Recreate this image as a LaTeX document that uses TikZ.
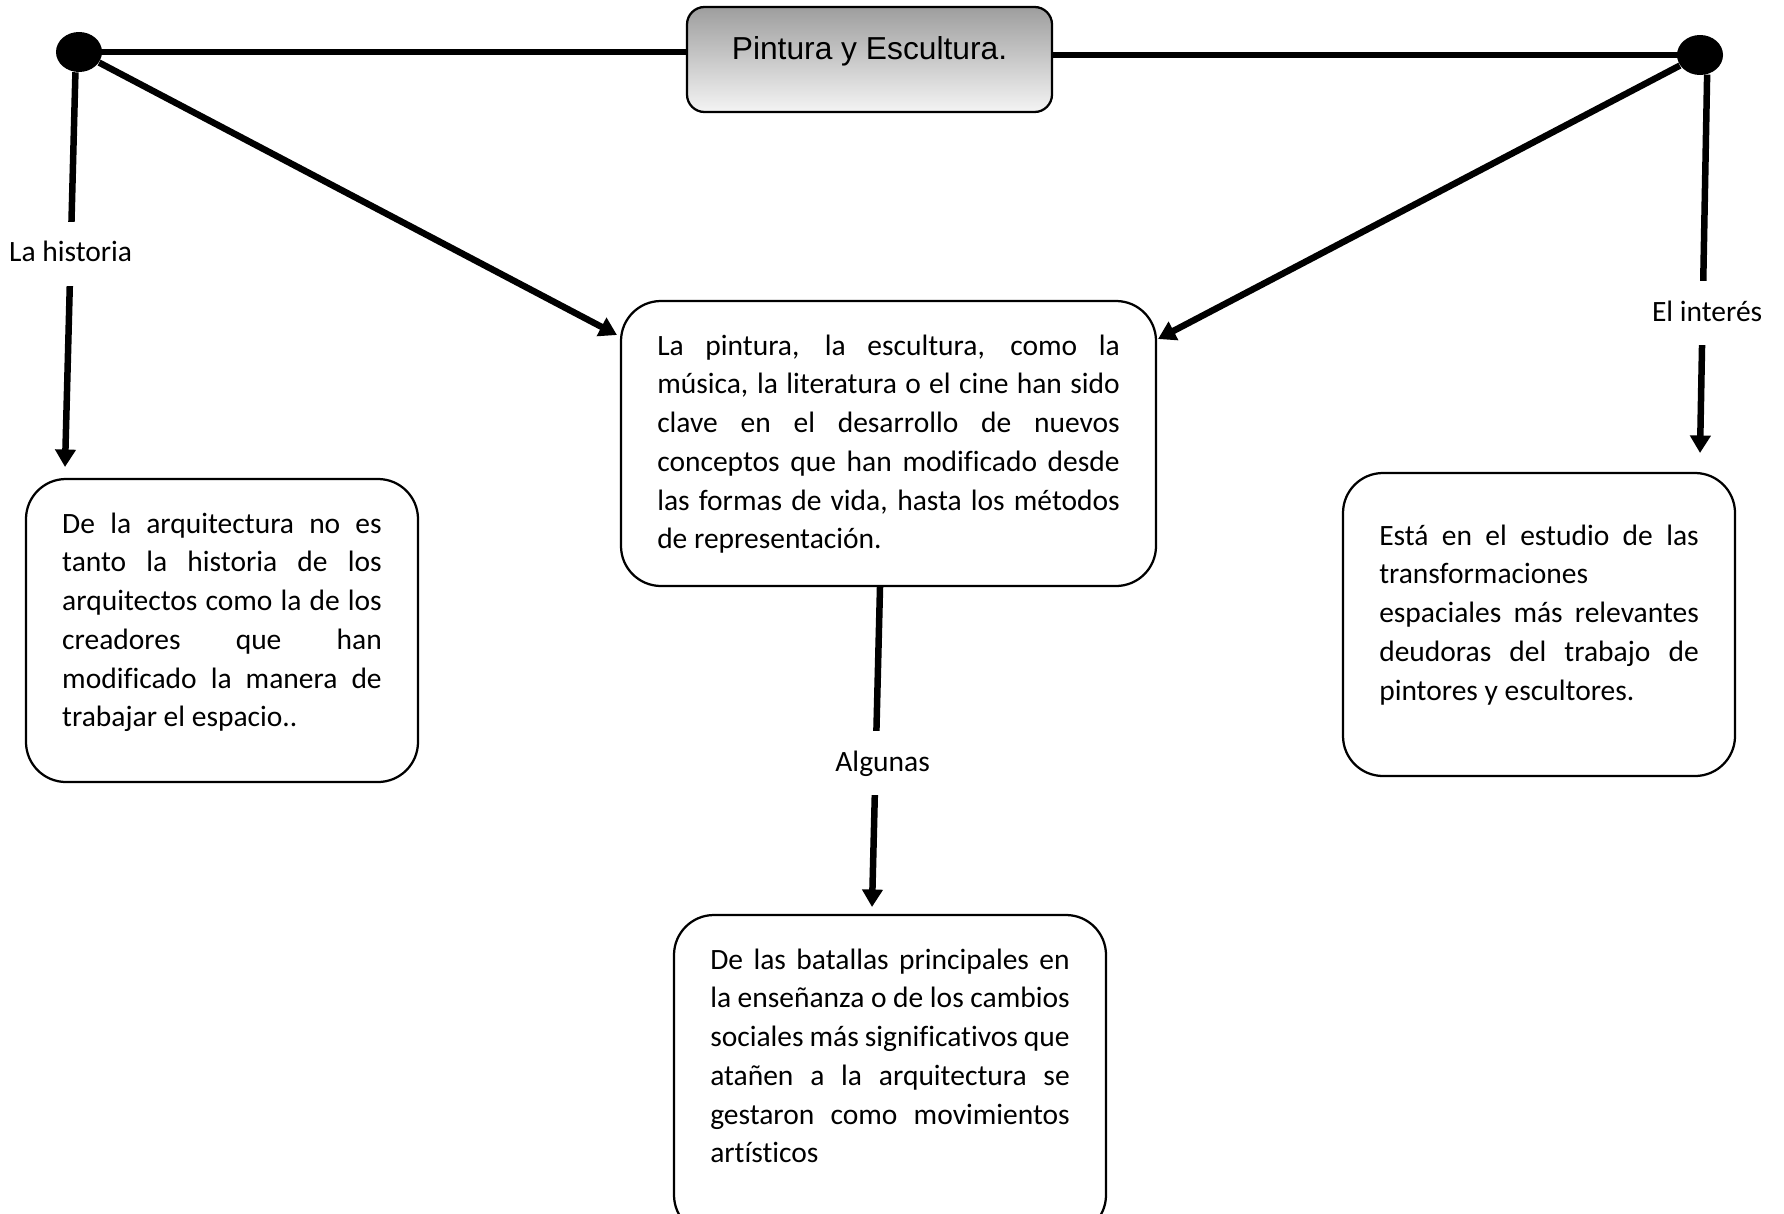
\documentclass[tikz,border=0pt]{standalone}
\usepackage{fontspec}
\setmainfont{Carlito}[Ligatures=CommonOff]
\newfontfamily\titlefont{Liberation Sans}
\usetikzlibrary{arrows.meta, positioning, calc, shapes.geometric}

\definecolor{grisarriba}{RGB}{158,158,158}
\definecolor{grisabajo}{RGB}{244,244,244}

% text block with fixed height, set from the top
\newcommand{\cuadro}[4]{%
  \parbox[c][#2][t]{#1}{\vspace*{#3}\strut #4}}

\begin{document}
\begin{tikzpicture}[
  x=0.4pt, y=-0.4pt,
  caja/.style = {draw, line width=0.9pt, rounded corners=16pt, inner xsep=14.5pt, inner ysep=0pt,
                 font=\fontsize{11.8pt}{15.5pt}\selectfont},
  titulo/.style = {draw, line width=0.9pt, rounded corners=7pt, top color=grisarriba, bottom color=grisabajo,
                   minimum width=146pt, minimum height=42pt, text height=9pt, text depth=9pt,
                   font=\titlefont\fontsize{12.7pt}{15pt}\selectfont},
  punto/.style = {ellipse, fill=black, inner sep=0pt, minimum width=18.4pt, minimum height=16pt},
  linea/.style = {line width=2.6pt},
  flecha/.style = {line width=2.6pt, -{Triangle[length=7pt, width=8pt]}},
  etiqueta/.style = {fill=white, inner xsep=2pt, inner ysep=7pt, text height=9pt, text depth=2.5pt,
                     font=\fontsize{11.8pt}{14pt}\selectfont}
]
  \useasboundingbox (0,0) rectangle (1784,1213);

  % Title and end points
  \node[titulo] (titulo) at (869.5,59.5) {Pintura y Escultura.};
  \node[punto] (puntoizq) at (79,52) {};
  \node[punto] (puntoder) at (1700,55) {};

  \draw[linea] (puntoizq.center) -- (puntoizq -| titulo.west);
  \draw[linea] (titulo.east |- puntoder) -- (puntoder.center);

  % Central box
  \node[caja] (centro) at (888.5,443.5) {\cuadro{185pt}{114pt}{10.75pt}{%
    La pintura, la escultura, como la\linebreak
    música, la literatura o el cine han sido\linebreak
    clave en el desarrollo de nuevos\linebreak
    conceptos que han modificado desde\linebreak
    las formas de vida, hasta los métodos\linebreak
    de representación.}};

  % Left box
  \node[caja] (izquierda) at (222,630.5) {\cuadro{127.8pt}{121.2pt}{10.75pt}{%
    De la arquitectura no es\linebreak
    tanto la historia de los\linebreak
    arquitectos como la de los\linebreak
    creadores que han\linebreak
    modificado la manera de\linebreak
    trabajar el espacio..}};

  % Right box
  \node[caja] (derecha) at (1539,624.5) {\cuadro{127.8pt}{121.2pt}{18pt}{%
    Está en el estudio de las\linebreak
    transformaciones\newline
    espaciales más relevantes\linebreak
    deudoras del trabajo de\linebreak
    pintores y escultores.}};

  % Bottom box
  \node[caja] (abajo) at (890,1075) {\cuadro{143.8pt}{128pt}{10.75pt}{%
    De las batallas principales en\linebreak
    la enseñanza o de los cambios\linebreak
    sociales más significativos que\linebreak
    atañen a la arquitectura se\linebreak
    gestaron como movimientos\linebreak
    artísticos}};

  % Arrows
  \coordinate (finhist) at (65,467);
  \coordinate (finizq) at (617,335);
  \coordinate (finder) at (1158,339);
  \coordinate (finint) at (1700,453);
  \coordinate (finalg) at (872,907);

  \draw[flecha] (puntoizq.-100) -- node[etiqueta, pos=0.46] (lblhist) {La historia} (finhist);
  \draw[flecha] (puntoizq) -- (finizq);
  \draw[flecha] (puntoder) -- (finder);
  \draw[flecha] (puntoder.-70) -- node[etiqueta, pos=0.63, xshift=1.8pt] (lblint) {El interés} (finint);
  \draw[flecha] ([xshift=-3.4pt]centro.south) -- node[etiqueta, pos=0.55, xshift=2.8pt] (lblalg) {Algunas} (finalg);

\end{tikzpicture}
\end{document}
